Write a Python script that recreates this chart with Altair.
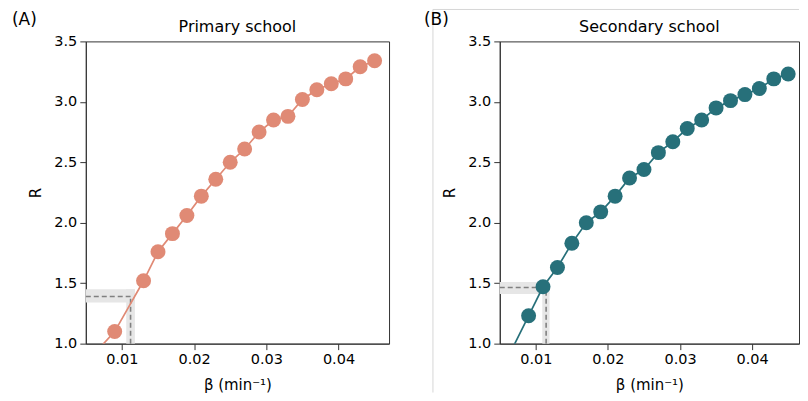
import altair as alt
import pandas as pd

# ---- data ----
beta_A = [0.009, 0.013, 0.015, 0.017, 0.019, 0.021, 0.023, 0.025, 0.027,
          0.029, 0.031, 0.033, 0.035, 0.037, 0.039, 0.041, 0.043, 0.045]
R_A = [1.10, 1.52, 1.76, 1.91, 2.06, 2.22, 2.36, 2.50, 2.61,
       2.75, 2.85, 2.88, 3.02, 3.10, 3.15, 3.19, 3.29, 3.34]
line_start_A = [0.007, 0.97]

beta_B = [0.009, 0.011, 0.013, 0.015, 0.017, 0.019, 0.021, 0.023, 0.025, 0.027,
          0.029, 0.031, 0.033, 0.035, 0.037, 0.039, 0.041, 0.043, 0.045]
R_B = [1.23, 1.47, 1.63, 1.83, 2.00, 2.09, 2.22, 2.37, 2.44, 2.58,
       2.67, 2.78, 2.85, 2.95, 3.01, 3.06, 3.11, 3.19, 3.23]
line_start_B = [0.007, 0.99]

# threshold estimate (beta, R) and uncertainty bands
est_A = [0.0112, 1.39]
band_beta_A = [0.0106, 0.0118]
band_R_A = [1.34, 1.45]

est_B = [0.01143, 1.465]
band_beta_B = [0.0109, 0.0119]
band_R_B = [1.41, 1.51]

titles = ["Primary school", "Secondary school"]
panel_labels = ["(A)", "(B)"]
colors = ["#E08A75", "#27707A"]

x_ticks = [0.01, 0.02, 0.03, 0.04]
y_ticks = [1.0, 1.5, 2.0, 2.5, 3.0, 3.5]
X_DOMAIN_A = [0.005, 0.047]
X_DOMAIN_B = [0.005, 0.0465]   # right side of panel B is cropped in the reference
Y_DOMAIN = [1.0, 3.5]

FONT = "DejaVu Sans"


def panel(beta, R, line_start, est, band_beta, band_R, title, label, color,
          width, xdom, frame=False):
    xs = alt.Scale(domain=xdom, nice=False, zero=False)
    ys = alt.Scale(domain=Y_DOMAIN, nice=False, zero=False)
    xaxis = alt.Axis(values=x_ticks, format=".2f", title="β (min⁻¹)")
    yaxis = alt.Axis(values=y_ticks, format=".1f", title="R")

    pts = pd.DataFrame({"x": beta, "y": R})
    line_df = pd.DataFrame({"x": [line_start[0]] + beta,
                            "y": [line_start[1]] + R})
    bands = pd.DataFrame({
        "x": [xdom[0], band_beta[0]],
        "x2": [band_beta[1], band_beta[1]],
        "y": [band_R[0], Y_DOMAIN[0]],
        "y2": [band_R[1], band_R[1]],
    })
    dashes = pd.DataFrame({
        "x": [xdom[0], est[0]],
        "x2": [est[0], est[0]],
        "y": [est[1], Y_DOMAIN[0]],
        "y2": [est[1], est[1]],
    })

    band_layer = alt.Chart(bands).mark_rect(color="#E6E6E6", opacity=1).encode(
        x=alt.X("x:Q", scale=xs, axis=xaxis), x2="x2:Q",
        y=alt.Y("y:Q", scale=ys, axis=yaxis), y2="y2:Q")
    dash_layer = alt.Chart(dashes).mark_rule(
        color="#808080", strokeWidth=1.6, strokeDash=[5, 3]).encode(
        x=alt.X("x:Q", scale=xs, axis=xaxis), x2="x2:Q",
        y=alt.Y("y:Q", scale=ys, axis=yaxis), y2="y2:Q")
    line_layer = alt.Chart(line_df).mark_line(
        color=color, strokeWidth=1.7, clip=True).encode(
        x=alt.X("x:Q", scale=xs, axis=xaxis),
        y=alt.Y("y:Q", scale=ys, axis=yaxis))
    pt_layer = alt.Chart(pts).mark_circle(
        color=color, size=225, opacity=1).encode(
        x=alt.X("x:Q", scale=xs, axis=xaxis),
        y=alt.Y("y:Q", scale=ys, axis=yaxis))
    lab = alt.Chart(pd.DataFrame({"t": [label]})).mark_text(
        font=FONT, fontSize=17, align="left", baseline="alphabetic",
        color="black").encode(
        text="t:N", x=alt.value(-74 if not frame else -76), y=alt.value(-16))
    ttl = alt.Chart(pd.DataFrame({"t": [title]})).mark_text(
        font=FONT, fontSize=16, align="center", baseline="alphabetic",
        color="black").encode(
        text="t:N", x=alt.value(width / 2), y=alt.value(-9))

    fdf = pd.DataFrame({"k": [0]})
    fop = 1 if frame else 0
    vrule = alt.Chart(fdf).mark_rule(color="#D6D6D6", strokeWidth=1,
                                     opacity=fop).encode(
        x=alt.value(-67), y=alt.value(-32), y2=alt.value(352))
    hrule = alt.Chart(fdf).mark_rule(color="#D6D6D6", strokeWidth=1,
                                     opacity=fop).encode(
        x=alt.value(-67), x2=alt.value(width), y=alt.value(-32))
    layers = [vrule, hrule, band_layer, dash_layer, line_layer, pt_layer, lab, ttl]

    return alt.layer(*layers).properties(width=width, height=303)


pA = panel(beta_A, R_A, line_start_A, est_A, band_beta_A, band_R_A,
           titles[0], panel_labels[0], colors[0], 304, X_DOMAIN_A)
pB = panel(beta_B, R_B, line_start_B, est_B, band_beta_B, band_R_B,
           titles[1], panel_labels[1], colors[1], 300, X_DOMAIN_B, frame=True)

chart = alt.hconcat(pA, pB, spacing=33).properties(
    padding={"left": 3, "top": 0, "right": 0, "bottom": 0}
).configure_view(
    stroke="#333333", strokeWidth=1
).configure_axis(
    grid=False, labelFont=FONT, titleFont=FONT, labelFontSize=14.5,
    titleFontSize=15, labelColor="black", titleColor="black",
    titleFontWeight="normal", tickSize=6, tickColor="#333333",
    domainColor="#333333", labelPadding=3, tickWidth=1, domainWidth=1
).configure_axisX(titlePadding=11).configure_axisY(titlePadding=10)

chart.save("out.html", embed_options={"renderer": "svg", "actions": False})
